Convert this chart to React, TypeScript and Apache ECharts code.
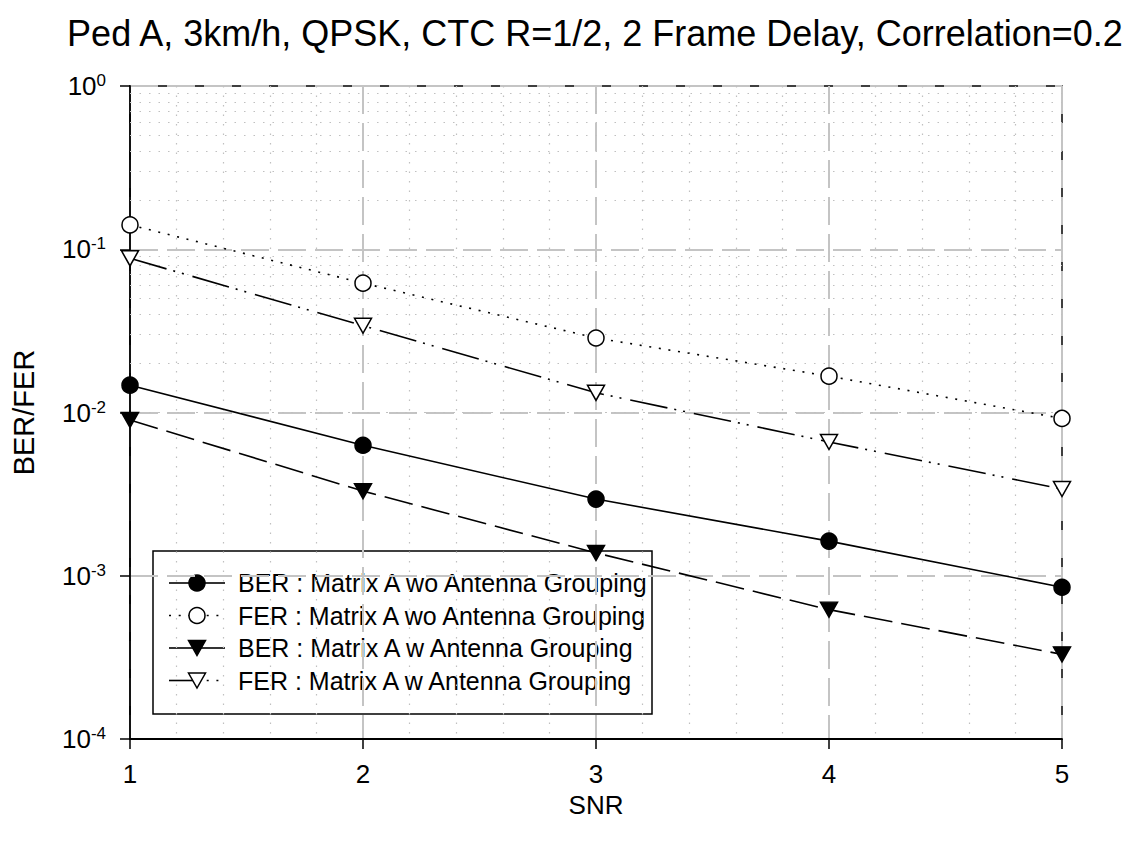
import React, { useEffect, useRef } from "react";
import * as echarts from "echarts";

const titleText = "Ped A, 3km/h, QPSK, CTC R=1/2, 2 Frame Delay, Correlation=0.2";
const xName = "SNR";
const yName = "BER/FER";
const snr = [1, 2, 3, 4, 5];
const berWo = [0.0147, 0.0063, 0.00295, 0.00163, 0.00085];
const ferWo = [0.141, 0.062, 0.0286, 0.0167, 0.0092];
const berW = [0.009, 0.0033, 0.00138, 0.00062, 0.00033];
const ferW = [0.088, 0.034, 0.0132, 0.0066, 0.0034];
const seriesNames = [
  "BER : Matrix A wo Antenna Grouping",
  "FER : Matrix A wo Antenna Grouping",
  "BER : Matrix A w Antenna Grouping",
  "FER : Matrix A w Antenna Grouping",
];
const yMinor = [
  2e-4, 3e-4, 4e-4, 5e-4, 6e-4, 7e-4, 8e-4, 9e-4,
  2e-3, 3e-3, 4e-3, 5e-3, 6e-3, 7e-3, 8e-3, 9e-3,
  2e-2, 3e-2, 4e-2, 5e-2, 6e-2, 7e-2, 8e-2, 9e-2,
  2e-1, 3e-1, 4e-1, 5e-1, 6e-1, 7e-1, 8e-1, 9e-1,
];

const FONT = "'Liberation Sans', Arial, sans-serif";
const DOT: number[] = [2, 7.7];
const DASH: number[] = [29, 9];
const DASHDOT: number[] = [38, 7, 2, 7, 2, 9];
const GRID_DASH: number[] = [28, 9];

const pts = (ys: number[]) => snr.map((x, i) => [x, ys[i]]);

export default function App() {
  const ref = useRef<HTMLDivElement>(null);
  useEffect(() => {
    document.body.style.margin = "0";
    const chart = echarts.init(ref.current!, null, { renderer: "svg" });

    const styles = [
      { data: berWo, symbol: "circle", rot: 0, fill: "#000", line: "solid" as any, size: 16 },
      { data: ferWo, symbol: "circle", rot: 0, fill: "#fff", line: DOT, size: 16 },
      { data: berW, symbol: "triangle", rot: 180, fill: "#000", line: DASH, size: [17, 15] },
      { data: ferW, symbol: "triangle", rot: 180, fill: "#fff", line: DASHDOT, size: [17, 15] },
    ];

    const series: any[] = styles.map((s, i) => ({
      name: seriesNames[i],
      type: "line",
      data: pts(s.data),
      symbol: s.symbol,
      symbolRotate: s.rot,
      symbolSize: s.size,
      showAllSymbol: true,
      z: 5,
      lineStyle: { color: "#000", width: 1.6, type: s.line },
      itemStyle: { color: s.fill, borderColor: "#000", borderWidth: 1.5 },
    }));

    series.push({
      type: "line",
      data: [],
      silent: true,
      z: 1,
      markLine: {
        silent: true,
        symbol: "none",
        label: { show: false },
        animation: false,
        lineStyle: { color: "#c0c0c0", width: 1.2, type: [1.5, 8] },
        data: yMinor.map((v) => ({ yAxis: v })),
      },
    });

    // custom legend
    const legendX = 153, legendY = 551, legendW = 499, legendH = 163;
    const rowY0 = 583, rowStep = 32.5;
    const lx0 = 169, lxm = 197, lx1 = 225;
    const legendEls: any[] = [
      {
        type: "rect",
        shape: { x: legendX, y: legendY, width: legendW, height: legendH },
        style: { fill: "#fff", stroke: "#000", lineWidth: 1.5 },
      },
    ];
    const leftDash = ["solid", DOT, "solid", "solid"];
    const rightDash = ["solid", DOT, "solid", DOT];
    seriesNames.forEach((name, i) => {
      const cy = rowY0 + rowStep * i;
      legendEls.push({
        type: "line",
        shape: { x1: lx0, y1: cy, x2: lxm, y2: cy },
        style: { stroke: "#000", lineWidth: 1.6, lineDash: leftDash[i] === "solid" ? null : leftDash[i] },
      });
      legendEls.push({
        type: "line",
        shape: { x1: lxm, y1: cy, x2: lx1, y2: cy },
        style: { stroke: "#000", lineWidth: 1.6, lineDash: rightDash[i] === "solid" ? null : rightDash[i] },
      });
      const fill = i % 2 === 0 ? "#000" : "#fff";
      if (i < 2) {
        legendEls.push({
          type: "circle",
          shape: { cx: lxm, cy, r: 8 },
          style: { fill, stroke: "#000", lineWidth: 1.5 },
        });
      } else {
        legendEls.push({
          type: "polygon",
          shape: { points: [[lxm - 8.5, cy - 7.5], [lxm + 8.5, cy - 7.5], [lxm, cy + 7.5]] },
          style: { fill, stroke: "#000", lineWidth: 1.5 },
        });
      }
      legendEls.push({
        type: "text",
        x: 238,
        y: cy,
        style: { text: name, fontSize: 25, fontFamily: FONT, fill: "#000", textVerticalAlign: "middle", verticalAlign: "middle" },
      });
    });

    chart.setOption({
      animation: false,
      backgroundColor: "#fff",
      grid: {
        left: 130, right: 77, top: 86, bottom: 109,
        show: true, borderColor: "#000", borderWidth: 1.5, backgroundColor: "transparent",
      },
      graphic: [
        {
          type: "text",
          x: 595,
          y: 33,
          style: {
            text: titleText, fontSize: 36, fontFamily: FONT, fill: "#000",
            align: "center", textAlign: "center", verticalAlign: "middle", textVerticalAlign: "middle",
          },
        },
        { type: "group", z: 100, children: legendEls },
      ],
      xAxis: {
        type: "value",
        min: 1, max: 5, interval: 1,
        name: xName,
        nameLocation: "middle",
        nameGap: 50,
        nameTextStyle: { fontSize: 26, fontFamily: FONT, color: "#000" },
        axisLine: { show: true, lineStyle: { color: "#000", width: 1.8 } },
        axisTick: { show: true, inside: false, length: 10, lineStyle: { color: "#000", width: 1.5 } },
        axisLabel: { fontSize: 26, fontFamily: FONT, color: "#000", margin: 22 },
        splitLine: { show: true, lineStyle: { color: "#c4c4c4", width: 2, type: GRID_DASH } },
        minorTick: { show: false, splitNumber: 5 },
        minorSplitLine: { show: true, lineStyle: { color: "#c0c0c0", width: 1.2, type: [1.5, 8] } },
      },
      yAxis: {
        type: "log",
        logBase: 10,
        min: 1e-4, max: 1,
        name: yName,
        nameLocation: "middle",
        nameGap: 92,
        nameTextStyle: { fontSize: 29, fontFamily: FONT, color: "#000" },
        axisLine: { show: true, lineStyle: { color: "#000", width: 1.8 } },
        axisTick: { show: true, inside: false, length: 10, lineStyle: { color: "#000", width: 1.5 } },
        axisLabel: {
          fontFamily: FONT,
          color: "#000",
          margin: 24,
          formatter: (v: number) => "{b|10}{sup|" + Math.round(Math.log10(v)) + "}",
          rich: {
            b: { fontSize: 26, lineHeight: 28, fontFamily: FONT, color: "#000" },
            sup: { fontSize: 17, lineHeight: 17, verticalAlign: "top", fontFamily: FONT, color: "#000" },
          },
        },
        splitLine: { show: true, lineStyle: { color: "#c4c4c4", width: 2, type: GRID_DASH } },
      },
      series,
    });
    return () => chart.dispose();
  }, []);
  return <div ref={ref} style={{ position: "absolute", left: 0, top: 0, width: 1139, height: 848 }} />;
}
